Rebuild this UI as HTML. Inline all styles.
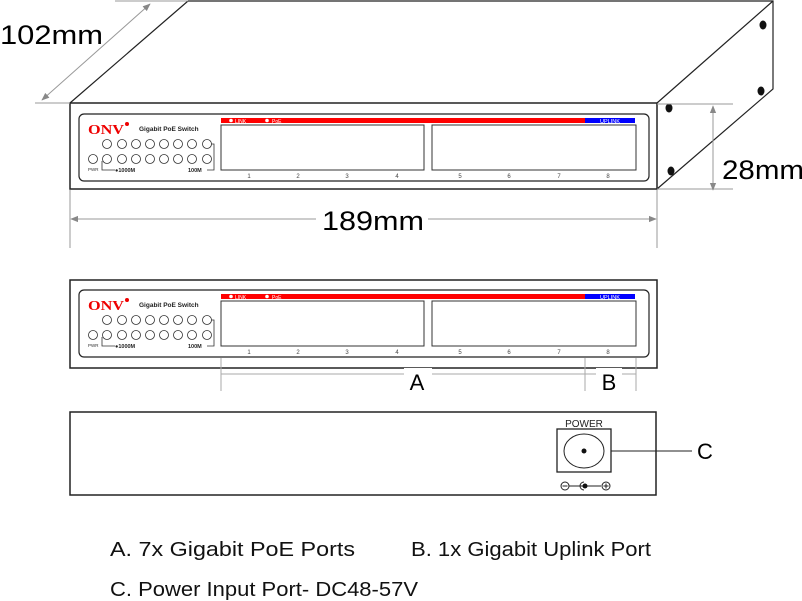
<!DOCTYPE html>
<html><head><meta charset="utf-8"><style>
body{margin:0;background:#fff}
svg{display:block}
text{font-family:"Liberation Sans",Arial,sans-serif}
</style></head><body>
<svg width="802" height="601" viewBox="0 0 802 601" xmlns="http://www.w3.org/2000/svg">
<defs>
<marker id="ah" viewBox="0 0 10 10" refX="9" refY="5" markerWidth="8" markerHeight="8" orient="auto-start-reverse"><path d="M0,1 L10,5 L0,9 z" fill="#888"/></marker>
</defs>
<g fill="none" stroke="#222" stroke-width="1.2">
<polyline points="70,103 188,1 773,1 773,89 657,189"/>
<line x1="657" y1="103" x2="773" y2="1"/>
<rect x="70" y="103" width="587" height="86" stroke-width="1.5"/>
</g>
<g fill="#111">
<ellipse cx="763" cy="25" rx="3.5" ry="4.5"/><ellipse cx="761" cy="91" rx="3.5" ry="4.5"/>
<ellipse cx="669" cy="108" rx="3.5" ry="4.5"/><ellipse cx="671" cy="171" rx="3.5" ry="4.5"/>
</g>
<g stroke="#999" stroke-width="1" fill="none">
<line x1="115" y1="1" x2="188" y2="1"/><line x1="35" y1="103" x2="70" y2="103"/>
<line x1="150" y1="4" x2="42" y2="100" marker-start="url(#ah)" marker-end="url(#ah)"/>
<line x1="657" y1="104" x2="733" y2="104"/><line x1="657" y1="189" x2="733" y2="189"/>
<line x1="713" y1="106" x2="713" y2="190" marker-start="url(#ah)" marker-end="url(#ah)"/>
<line x1="70" y1="190" x2="70" y2="248"/><line x1="657" y1="190" x2="657" y2="248"/>
<line x1="71" y1="219" x2="656" y2="219" marker-start="url(#ah)" marker-end="url(#ah)"/>
</g>
<text x="0" y="44" font-size="27" textLength="103" lengthAdjust="spacingAndGlyphs">102mm</text>
<text x="722" y="179" font-size="27" textLength="82" lengthAdjust="spacingAndGlyphs">28mm</text>
<rect x="316" y="205" width="112" height="28" fill="#fff"/>
<text x="322" y="230" font-size="27" textLength="102" lengthAdjust="spacingAndGlyphs">189mm</text>

<g>
<rect x="79" y="114" width="570" height="67" rx="5" fill="none" stroke="#222" stroke-width="1.2"/>
<rect x="221" y="118" width="364" height="5" fill="#f00"/><rect x="585" y="118" width="50" height="5" fill="#00f"/>
<text x="235" y="123" font-size="5" fill="#fff">LINK</text><text x="272" y="123" font-size="5" fill="#fff">PoE</text>
<circle cx="231" cy="120.5" r="1.8" fill="#fff"/><circle cx="267" cy="120.5" r="1.8" fill="#fff"/>
<text x="600" y="123" font-size="5.5" fill="#fff">UPLINK</text>
<rect x="221" y="125" width="203" height="45" fill="none" stroke="#333"/>
<rect x="432" y="125" width="204" height="45" fill="none" stroke="#333"/>
<g font-size="6" fill="#444" text-anchor="middle"><text x="249" y="178">1</text><text x="298" y="178">2</text><text x="347" y="178">3</text><text x="397" y="178">4</text><text x="460" y="178">5</text><text x="509" y="178">6</text><text x="559" y="178">7</text><text x="608" y="178">8</text></g>
<text x="88" y="134" font-size="14" font-weight="bold" fill="#e00" style="font-family:'Liberation Serif',serif" textLength="36" lengthAdjust="spacingAndGlyphs">ONV</text><circle cx="127" cy="124" r="2" fill="#e00"/>
<text x="139" y="131" font-size="6.5" font-weight="bold" fill="#222">Gigabit PoE Switch</text>
<g fill="none" stroke="#333" stroke-width="0.8">
<circle cx="107" cy="144" r="4.5"/><circle cx="122" cy="144" r="4.5"/><circle cx="136" cy="144" r="4.5"/><circle cx="150" cy="144" r="4.5"/><circle cx="164" cy="144" r="4.5"/><circle cx="178" cy="144" r="4.5"/><circle cx="192" cy="144" r="4.5"/><circle cx="207" cy="144" r="4.5"/>
<circle cx="93" cy="159" r="4.5"/><circle cx="107" cy="159" r="4.5"/><circle cx="122" cy="159" r="4.5"/><circle cx="136" cy="159" r="4.5"/><circle cx="150" cy="159" r="4.5"/><circle cx="164" cy="159" r="4.5"/><circle cx="178" cy="159" r="4.5"/><circle cx="192" cy="159" r="4.5"/><circle cx="207" cy="159" r="4.5"/>
<polyline points="102,161 102,170 115,170"/><polyline points="211,144 214,144 214,170 207,170"/>
</g>
<text x="88" y="171" font-size="4.5" fill="#333">PWR</text>
<text x="115" y="172" font-size="5.5" font-weight="bold" fill="#222">●1000M</text>
<text x="188" y="172" font-size="5.5" font-weight="bold" fill="#222">100M</text>
</g>

<rect x="70" y="280" width="587" height="88" fill="none" stroke="#222" stroke-width="1.5"/>
<g transform="translate(0,176)">
<rect x="79" y="114" width="570" height="67" rx="5" fill="none" stroke="#222" stroke-width="1.2"/>
<rect x="221" y="118" width="364" height="5" fill="#f00"/><rect x="585" y="118" width="50" height="5" fill="#00f"/>
<text x="235" y="123" font-size="5" fill="#fff">LINK</text><text x="272" y="123" font-size="5" fill="#fff">PoE</text>
<circle cx="231" cy="120.5" r="1.8" fill="#fff"/><circle cx="267" cy="120.5" r="1.8" fill="#fff"/>
<text x="600" y="123" font-size="5.5" fill="#fff">UPLINK</text>
<rect x="221" y="125" width="203" height="45" fill="none" stroke="#333"/>
<rect x="432" y="125" width="204" height="45" fill="none" stroke="#333"/>
<g font-size="6" fill="#444" text-anchor="middle"><text x="249" y="178">1</text><text x="298" y="178">2</text><text x="347" y="178">3</text><text x="397" y="178">4</text><text x="460" y="178">5</text><text x="509" y="178">6</text><text x="559" y="178">7</text><text x="608" y="178">8</text></g>
<text x="88" y="134" font-size="14" font-weight="bold" fill="#e00" style="font-family:'Liberation Serif',serif" textLength="36" lengthAdjust="spacingAndGlyphs">ONV</text><circle cx="127" cy="124" r="2" fill="#e00"/>
<text x="139" y="131" font-size="6.5" font-weight="bold" fill="#222">Gigabit PoE Switch</text>
<g fill="none" stroke="#333" stroke-width="0.8">
<circle cx="107" cy="144" r="4.5"/><circle cx="122" cy="144" r="4.5"/><circle cx="136" cy="144" r="4.5"/><circle cx="150" cy="144" r="4.5"/><circle cx="164" cy="144" r="4.5"/><circle cx="178" cy="144" r="4.5"/><circle cx="192" cy="144" r="4.5"/><circle cx="207" cy="144" r="4.5"/>
<circle cx="93" cy="159" r="4.5"/><circle cx="107" cy="159" r="4.5"/><circle cx="122" cy="159" r="4.5"/><circle cx="136" cy="159" r="4.5"/><circle cx="150" cy="159" r="4.5"/><circle cx="164" cy="159" r="4.5"/><circle cx="178" cy="159" r="4.5"/><circle cx="192" cy="159" r="4.5"/><circle cx="207" cy="159" r="4.5"/>
<polyline points="102,161 102,170 115,170"/><polyline points="211,144 214,144 214,170 207,170"/>
</g>
<text x="88" y="171" font-size="4.5" fill="#333">PWR</text>
<text x="115" y="172" font-size="5.5" font-weight="bold" fill="#222">●1000M</text>
<text x="188" y="172" font-size="5.5" font-weight="bold" fill="#222">100M</text>
</g>
<g stroke="#aaa" stroke-width="1">
<line x1="221" y1="358" x2="221" y2="391"/><line x1="585" y1="358" x2="585" y2="391"/><line x1="636" y1="358" x2="636" y2="391"/>
<line x1="221" y1="374" x2="636" y2="374"/>
</g>
<rect x="404" y="368" width="28" height="24" fill="#fff"/><rect x="596" y="368" width="26" height="24" fill="#fff"/>
<text x="417" y="390" font-size="22" text-anchor="middle">A</text>
<text x="609" y="390" font-size="22" text-anchor="middle">B</text>

<rect x="70" y="412" width="586" height="83" fill="none" stroke="#222" stroke-width="1.5"/>
<text x="584" y="427" font-size="10" text-anchor="middle" fill="#222">POWER</text>
<rect x="557" y="429" width="54" height="43" fill="none" stroke="#222" stroke-width="1.3"/>
<ellipse cx="584" cy="451" rx="20" ry="17" fill="none" stroke="#222"/>
<circle cx="584" cy="451" r="2.5" fill="#111"/>
<line x1="611" y1="451" x2="692" y2="451" stroke="#222"/>
<text x="697" y="459" font-size="22">C</text>
<g stroke="#222" fill="none" stroke-width="1">
<circle cx="565" cy="486" r="4"/><line x1="562.5" y1="486" x2="567.5" y2="486"/>
<line x1="569" y1="486" x2="601" y2="486"/>
<path d="M584,482 A4,4 0 1,0 584,490"/>
<circle cx="606" cy="486" r="4"/><line x1="603.5" y1="486" x2="608.5" y2="486"/><line x1="606" y1="483.5" x2="606" y2="488.5"/>
</g>
<circle cx="585" cy="486" r="2.5" fill="#111"/>

<g font-size="20" fill="#111">
<text x="110" y="556" textLength="245" lengthAdjust="spacingAndGlyphs">A. 7x Gigabit PoE Ports</text>
<text x="411" y="556" textLength="240" lengthAdjust="spacingAndGlyphs">B. 1x Gigabit Uplink Port</text>
<text x="110" y="596" textLength="308" lengthAdjust="spacingAndGlyphs">C. Power Input Port- DC48-57V</text>
</g>
</svg>
</body></html>
